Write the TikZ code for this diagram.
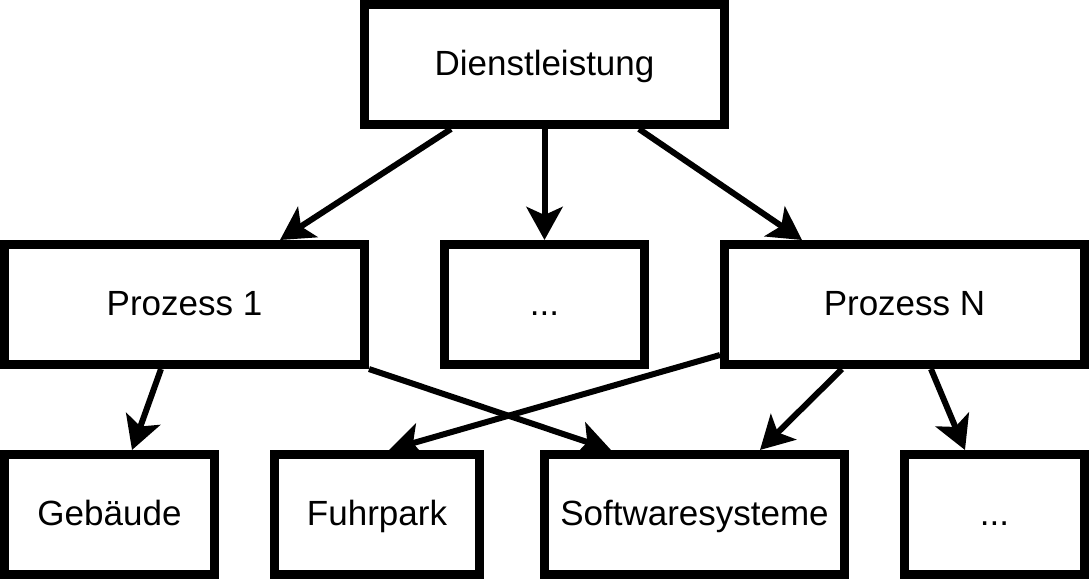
\documentclass[tikz,border=0pt]{standalone}
\usepackage{fontspec}
\setmainfont{Liberation Sans}
\usetikzlibrary{arrows.meta, calc}

\begin{document}
\begin{tikzpicture}[x=0.5pt, y=-0.5pt,
    box/.style={draw, line width=4.5pt, minimum height=60pt, inner sep=0pt,
      text height=13pt, text depth=2pt, font=\fontsize{17.5}{21}\selectfont},
    link/.style={line width=3pt, -{Stealth[length=16.5pt, width=18pt, inset=4pt]}}]
  \useasboundingbox (0,0) rectangle (1089,579);
  % oberste Ebene
  \node[box, minimum width=180pt] (dienst) at (544.5,64.5) {Dienstleistung};
  % Prozesse
  \node[box, minimum width=180pt] (proz1) at (184.5,304.5) {Prozess 1};
  \node[box, minimum width=100pt] (prozx) at (544.5,304.5) {...};
  \node[box, minimum width=180pt] (prozn) at (904.5,304.5) {Prozess N};
  % Ressourcen
  \node[box, minimum width=105pt] (gebaeude) at (109.5,514.5) {Gebäude};
  \node[box, minimum width=102.5pt] (fuhrpark) at (377,514.5) {Fuhrpark};
  \node[box, minimum width=150pt] (software) at (694.5,514.5) {Softwaresysteme};
  \node[box, minimum width=90pt] (resx) at (994.5,514.5) {...};

  \draw[link] ($(dienst.south)+(-93.5,0)$) -- ($(proz1.north)+(95.5,0)$);
  \draw[link] (dienst.south) -- (prozx.north);
  \draw[link] ($(dienst.south)+(94.5,0)$) -- ($(prozn.north)+(-102.5,0)$);

  \draw[link] ($(proz1.south)+(-23.5,0)$) -- ($(gebaeude.north)+(22.5,0)$);
  \draw[link] (proz1.south east) -- ($(software.north)+(-83.5,0)$);
  \draw[link] ($(prozn.south west)+(0,-14)$) -- ($(fuhrpark.north)+(12,0)$);
  \draw[link] ($(prozn.south)+(-62.5,0)$) -- ($(software.north)+(65.5,0)$);
  \draw[link] ($(prozn.south)+(26.5,0)$) -- ($(resx.north)+(-29.5,0)$);
\end{tikzpicture}
\end{document}
